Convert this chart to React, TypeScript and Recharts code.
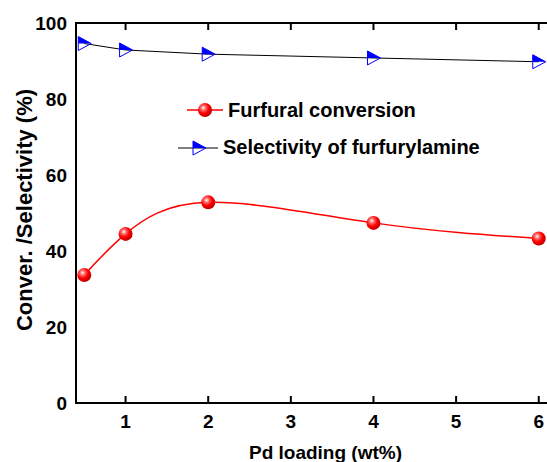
import { LineChart, Line, XAxis, YAxis, Legend, Label } from "recharts";

// Pd loading (wt%)
const loading = [0.5, 1, 2, 4, 6];
// Furfural conversion (%)
const conversion = [33.7, 44.5, 52.8, 47.4, 43.3];
// Selectivity of furfurylamine (%)
const selectivity = [94.6, 92.9, 91.8, 90.8, 89.8];

const xTicks = [1, 2, 3, 4, 5, 6];
const yLabels = [0, 20, 40, 60, 80, 100];
// the inward tick marks on the left axis sit off the labels in the original
const yMarks = [6.6, 16.6, 26.6, 36.6, 46.6, 56.6, 66.6, 76.6, 86.6];

const X_DOMAIN: [number, number] = [0.4, 6.1];
const Y_DOMAIN: [number, number] = [0, 100];

const data = loading.map((x, i) => ({
  x,
  conversion: conversion[i],
  selectivity: selectivity[i],
}));

const FONT = '"Liberation Sans", Arial, sans-serif';

const Ball = (props: any) => {
  const { cx, cy } = props;
  if (cx == null || cy == null) return null;
  return <circle cx={cx} cy={cy} r={7} fill="url(#ball)" />;
};

const Tri = (props: any) => {
  const { cx, cy } = props;
  if (cx == null || cy == null) return null;
  return (
    <g>
      <path d={`M${cx - 6},${cy - 7} L${cx + 7},${cy} L${cx - 6},${cy} Z`} fill="#0000ff" />
      <path
        d={`M${cx - 6},${cy - 7} L${cx + 7},${cy} L${cx - 6},${cy + 7} Z`}
        fill="none"
        stroke="#0000ff"
        strokeWidth={1}
      />
    </g>
  );
};

const noLabel = () => null;
const tickStyle = { fontSize: 19, fontWeight: 700, fill: "#000" };

const yTitle = (p: any) => {
  const vb = p.viewBox;
  const x = vb.x + 32;
  const y = vb.y + vb.height / 2 - 3;
  return (
    <text
      x={x}
      y={y}
      transform={`rotate(-90 ${x} ${y})`}
      textAnchor="middle"
      fontSize={22}
      fontWeight={700}
      fill="#000"
      fontFamily={FONT}
    >
      Conver. /Selectivity (%)
    </text>
  );
};

const xTitle = (p: any) => {
  const vb = p.viewBox;
  return (
    <text
      x={vb.x + vb.width / 2 + 14}
      y={vb.y + 56}
      textAnchor="middle"
      fontSize={19}
      fontWeight={700}
      fill="#000"
      fontFamily={FONT}
    >
      Pd loading (wt%)
    </text>
  );
};

const renderLegend = (p: any) => {
  const items = p.payload || [];
  const a = items.find((d: any) => d.dataKey === "conversion");
  const b = items.find((d: any) => d.dataKey === "selectivity");
  return (
    <svg width={320} height={70} fontFamily={FONT} fontWeight={700} style={{ display: "block" }}>
      <line x1={9} y1={15} x2={45} y2={15} stroke="#ff0000" strokeWidth={1.5} />
      <Ball cx={27} cy={15} />
      <text x={50} y={22} fontSize={20} fill="#000">
        {a ? a.value : ""}
      </text>
      <line x1={0} y1={53} x2={40} y2={53} stroke="#000" strokeWidth={1} />
      <Tri cx={21} cy={53} />
      <text x={45} y={59} fontSize={20} fill="#000">
        {b ? b.value : ""}
      </text>
    </svg>
  );
};

export default function App() {
  return (
    <div style={{ position: "absolute", left: 0, top: 0, width: 547, height: 462, fontFamily: FONT }}>
      <LineChart
        width={547}
        height={462}
        data={data}
        margin={{ top: 23, right: 0, bottom: 0, left: 0 }}
      >
        <defs>
          <radialGradient id="ball" cx="38%" cy="35%" r="65%">
            <stop offset="0%" stopColor="#ffffff" />
            <stop offset="25%" stopColor="#ff7070" />
            <stop offset="60%" stopColor="#ff0000" />
            <stop offset="100%" stopColor="#c00000" />
          </radialGradient>
        </defs>
        <XAxis
          xAxisId="b"
          dataKey="x"
          type="number"
          domain={X_DOMAIN}
          ticks={xTicks}
          interval={0}
          height={59}
          tickSize={0}
          tickMargin={12}
          stroke="#000"
          strokeWidth={2}
          tick={tickStyle}
        >
          <Label content={xTitle} />
        </XAxis>
        <XAxis
          xAxisId="bt"
          dataKey="x"
          type="number"
          domain={X_DOMAIN}
          ticks={xTicks}
          interval={0}
          height={1}
          mirror
          tickSize={7}
          tick={noLabel}
          axisLine={false}
          stroke="#000"
          strokeWidth={2}
        />
        <XAxis
          xAxisId="t"
          orientation="top"
          dataKey="x"
          type="number"
          domain={X_DOMAIN}
          ticks={xTicks}
          interval={0}
          height={1}
          mirror
          tickSize={7}
          tick={noLabel}
          stroke="#000"
          strokeWidth={2}
        />
        <YAxis
          yAxisId="l"
          type="number"
          domain={Y_DOMAIN}
          ticks={yLabels}
          interval={0}
          width={76}
          tickSize={0}
          tickMargin={9}
          stroke="#000"
          strokeWidth={2}
          tick={tickStyle}
        >
          <Label content={yTitle} />
        </YAxis>
        <YAxis
          yAxisId="lt"
          type="number"
          domain={Y_DOMAIN}
          ticks={yMarks}
          interval={0}
          width={1}
          mirror
          tickSize={7}
          tick={noLabel}
          axisLine={false}
          stroke="#000"
          strokeWidth={2}
        />
        <Legend
          layout="horizontal"
          verticalAlign="middle"
          align="center"
          content={renderLegend}
          wrapperStyle={{ left: 178, top: 95, width: 320, height: 70 }}
        />
        <Line
          xAxisId="b"
          yAxisId="l"
          type="natural"
          dataKey="conversion"
          name="Furfural conversion"
          stroke="#ff0000"
          strokeWidth={1.5}
          dot={<Ball />}
          isAnimationActive={false}
        />
        <Line
          xAxisId="b"
          yAxisId="l"
          type="linear"
          dataKey="selectivity"
          name="Selectivity of furfurylamine"
          stroke="#000"
          strokeWidth={1}
          dot={<Tri />}
          isAnimationActive={false}
        />
      </LineChart>
      {/* plot frame: left, top and bottom borders of the box */}
      <div
        style={{
          position: "absolute",
          left: 75,
          top: 22,
          width: 472,
          height: 382,
          boxSizing: "border-box",
          borderLeft: "2px solid #000",
          borderTop: "2px solid #000",
          borderBottom: "2px solid #000",
          pointerEvents: "none",
        }}
      />
    </div>
  );
}
